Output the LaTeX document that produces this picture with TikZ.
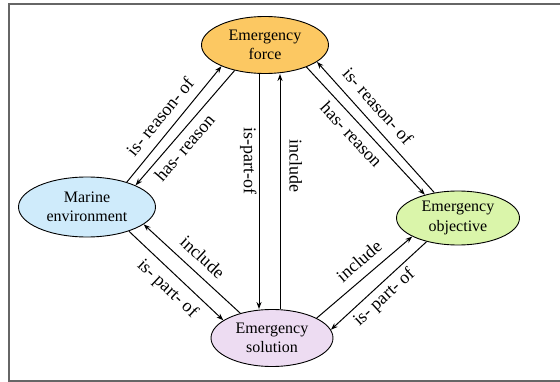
\documentclass[tikz,border=0pt]{standalone}
\usepackage{fontspec}
\setmainfont{Liberation Serif}
\usepackage{xcolor}
\usepackage{tikz}
\usetikzlibrary{arrows.meta}
\usetikzlibrary{shapes.geometric}
\definecolor{forcefill}{HTML}{FCC862}
\definecolor{marinefill}{HTML}{CFEBFB}
\definecolor{objectivefill}{HTML}{DAF5AA}
\definecolor{solutionfill}{HTML}{EDDCF2}
\tikzset{
    concept/.style = {ellipse, draw=black, line width=0.9pt, align=center, inner sep=0pt,
                      font=\fontsize{16}{19.5}\selectfont},
    orange_node/.style = {concept, fill=forcefill, minimum width=127pt, minimum height=57pt},
    blue_node/.style = {concept, fill=marinefill, minimum width=137pt, minimum height=60pt},
    green_node/.style = {concept, fill=objectivefill, minimum width=123pt, minimum height=54pt},
    purple_node/.style = {concept, fill=solutionfill, minimum width=122pt, minimum height=57pt},
    rel/.style = {->, line width=1pt},
    rel_label/.style = {font=\fontsize{18}{20}\selectfont, inner sep=2pt}
}

\begin{document}
\begin{tikzpicture}
            [x=1pt, y=1pt, >={Stealth[length=7pt, width=5pt]}]

            \useasboundingbox (0,0) rectangle (560,-382);
            \draw [black!60, line width=1.5pt] (560,-4) -- (9,-4) -- (9,-381) -- (560,-381);

            \node [orange_node] (force) at (265,-45) {Emergency\\force};
            \node [blue_node] (marine) at (87,-207) {Marine\\environment};
            \node [green_node] (objective) at (458,-218) {Emergency\\objective};
            \node [purple_node] (solution) at (272,-338) {Emergency\\solution};

            % marine <-> force
            \draw [rel] (marine.32) -- (force.206)
                node [rel_label, pos=0.48, sloped, above=7pt] {is- reason- of};
            \draw [rel] (force.220) -- (marine.24)
                node [rel_label, pos=0.6, sloped, below=3.5pt] {has- reason};

            % force <-> solution
            \draw [rel] ([xshift=-6pt]force.south) -- ([xshift=-6pt]force.south |- solution.north)
                node [rel_label, pos=0.37, sloped, below=0pt] {is-part-of};
            \draw [rel, <-] ([xshift=8pt]solution.north |- force.south) -- ([xshift=8pt]solution.north)
                node [rel_label, pos=0.39, sloped, above=7pt] {include};

            % force <-> objective
            \draw [rel] (force.332) -- (objective.145)
                node [rel_label, pos=0.46, sloped, below=4pt] {has- reason};
            \draw [rel] (objective.133) -- (force.342)
                node [rel_label, pos=0.58, sloped, above=7pt] {is- reason- of};

            % marine <-> solution
            \draw [rel] (marine.330) -- (solution.160)
                node [rel_label, pos=0.52, sloped, below=5pt] {is- part- of};
            \draw [rel] (solution.142) -- (marine.343)
                node [rel_label, pos=0.5, sloped, above=7pt] {include};

            % solution <-> objective
            \draw [rel] (solution.24) -- (objective.202)
                node [rel_label, pos=0.55, sloped, above=7pt] {include};
            \draw [rel] (objective.217) -- (solution.8)
                node [rel_label, pos=0.53, sloped, below=2pt] {is- part- of};
\end{tikzpicture}
\end{document}
